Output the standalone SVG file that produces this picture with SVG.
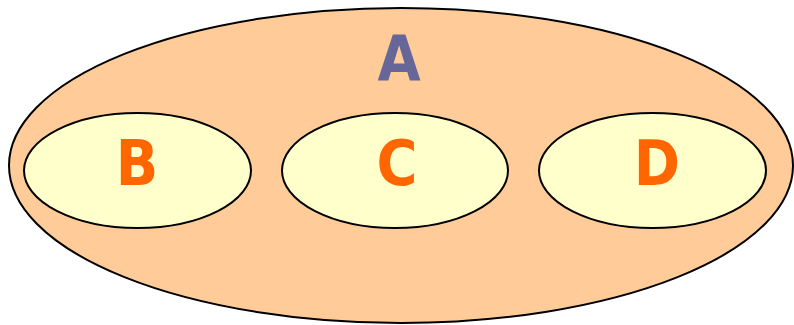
<svg xmlns="http://www.w3.org/2000/svg" width="794" height="325" viewBox="0 0 794 325">
<style>
.outer{fill:#FFCC99;stroke:#000;stroke-width:2}
.inner{fill:#FFFFCC;stroke:#000;stroke-width:2}
.lbl{font-family:"DejaVu Sans Condensed","DejaVu Sans",sans-serif;font-stretch:condensed;font-weight:bold;font-size:62px;text-anchor:middle}
.a{fill:#666699}
.o{fill:#FF6600}
</style>
<g id="A">
<ellipse class="outer" cx="401" cy="165.5" rx="392" ry="157.5"/>
<text class="lbl a" x="399" y="80">A</text>
</g>
<g id="B">
<ellipse class="inner" cx="137.5" cy="170.5" rx="113.5" ry="57.5"/>
<text class="lbl o" x="137" y="185">B</text>
</g>
<g id="C">
<ellipse class="inner" cx="395" cy="170.5" rx="113" ry="57.5"/>
<text class="lbl o" x="397" y="185">C</text>
</g>
<g id="D">
<ellipse class="inner" cx="652.5" cy="170.5" rx="113.5" ry="57.5"/>
<text class="lbl o" x="657" y="185">D</text>
</g>
<g id="connectors"/>
</svg>
